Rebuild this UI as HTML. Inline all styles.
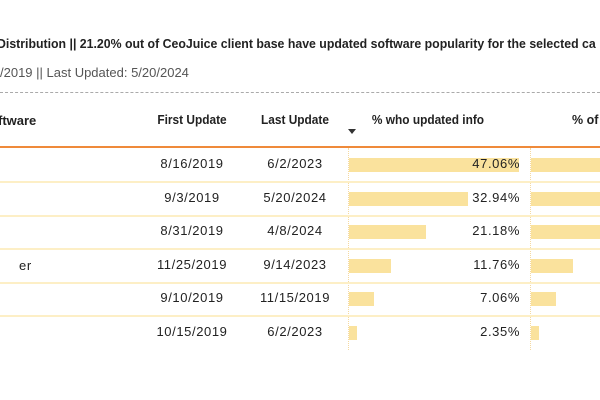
<!DOCTYPE html><html><head><style>
body{margin:0;width:600px;height:400px;background:#fff;overflow:hidden;position:relative;font-family:"Liberation Sans",sans-serif;color:#222}
.t{position:absolute;white-space:nowrap;font-size:12px;transform-origin:left center}
.c{position:absolute;white-space:nowrap;font-size:13px;letter-spacing:0.6px;text-align:center;width:100px}
.r{position:absolute;white-space:nowrap;font-size:13px;letter-spacing:0.6px;text-align:right;width:100px}
.hc{position:absolute;white-space:nowrap;font-size:12.5px;font-weight:bold;text-align:center;width:120px;transform:scaleX(0.95)}
.b{position:absolute;height:14px;background:#fae29d}
.h{position:absolute;left:0;width:600px;height:2px;background:#fdefc6}
</style></head><body>
<div class="t" style="left:-3px;top:37px;font-weight:bold;font-size:12.5px;transform:scaleX(0.985)">Distribution || 21.20% out of CeoJuice client base have updated software popularity for the selected ca</div>
<div class="t" style="left:0;top:65px;color:#555;font-size:13px;transform:scaleX(1.0)">/2019 || Last Updated: 5/20/2024</div>
<div style="position:absolute;left:0;top:92px;width:600px;border-top:1px dashed #aaa"></div>
<div class="t" style="left:-2px;top:113px;font-weight:bold;font-size:13px">ftware</div>
<div class="hc" style="left:132px;top:113px">First Update</div>
<div class="hc" style="left:235px;top:113px">Last Update</div>
<div class="hc" style="left:368px;top:113px">% who updated info</div>
<div class="t" style="left:572px;top:113px;font-weight:bold;font-size:12.5px">% of</div>
<div style="position:absolute;left:348px;top:129px;border-left:4px solid transparent;border-right:4px solid transparent;border-top:5px solid #333"></div>
<div style="position:absolute;left:0;top:146px;width:600px;height:2px;background:#ef8a3a"></div>
<div style="position:absolute;left:348px;top:148px;height:202px;border-left:1px dotted #f5d9a0"></div>
<div style="position:absolute;left:530px;top:148px;height:202px;border-left:1px dotted #f5d9a0"></div>
<div class="h" style="top:181px"></div><div class="h" style="top:215px"></div><div class="h" style="top:248px"></div><div class="h" style="top:282px"></div><div class="h" style="top:315px"></div>
<div class="t" style="left:19px;top:258px;font-size:13px;letter-spacing:0.6px">er</div>
<div id="rows"></div>
<script>
var d=[["8/16/2019","6/2/2023",47.06,170,69],["9/3/2019","5/20/2024",32.94,119,69],["8/31/2019","4/8/2024",21.18,77,69],["11/25/2019","9/14/2023",11.76,42,42],["9/10/2019","11/15/2019",7.06,25,25],["10/15/2019","6/2/2023",2.35,8,8]];
var h="";d.forEach(function(r,i){var y=156+i*33.6;
h+='<div class="c" style="left:142px;top:'+(y)+'px">'+r[0]+'</div>';
h+='<div class="c" style="left:245px;top:'+(y)+'px">'+r[1]+'</div>';
h+='<div class="b" style="left:349px;top:'+(y+2)+'px;width:'+r[3]+'px"></div>';
h+='<div class="r" style="left:420px;top:'+(y)+'px">'+r[2].toFixed(2)+'%</div>';
h+='<div class="b" style="left:531px;top:'+(y+2)+'px;width:'+r[4]+'px"></div>';});
document.getElementById("rows").innerHTML=h;
</script>
</body></html>
